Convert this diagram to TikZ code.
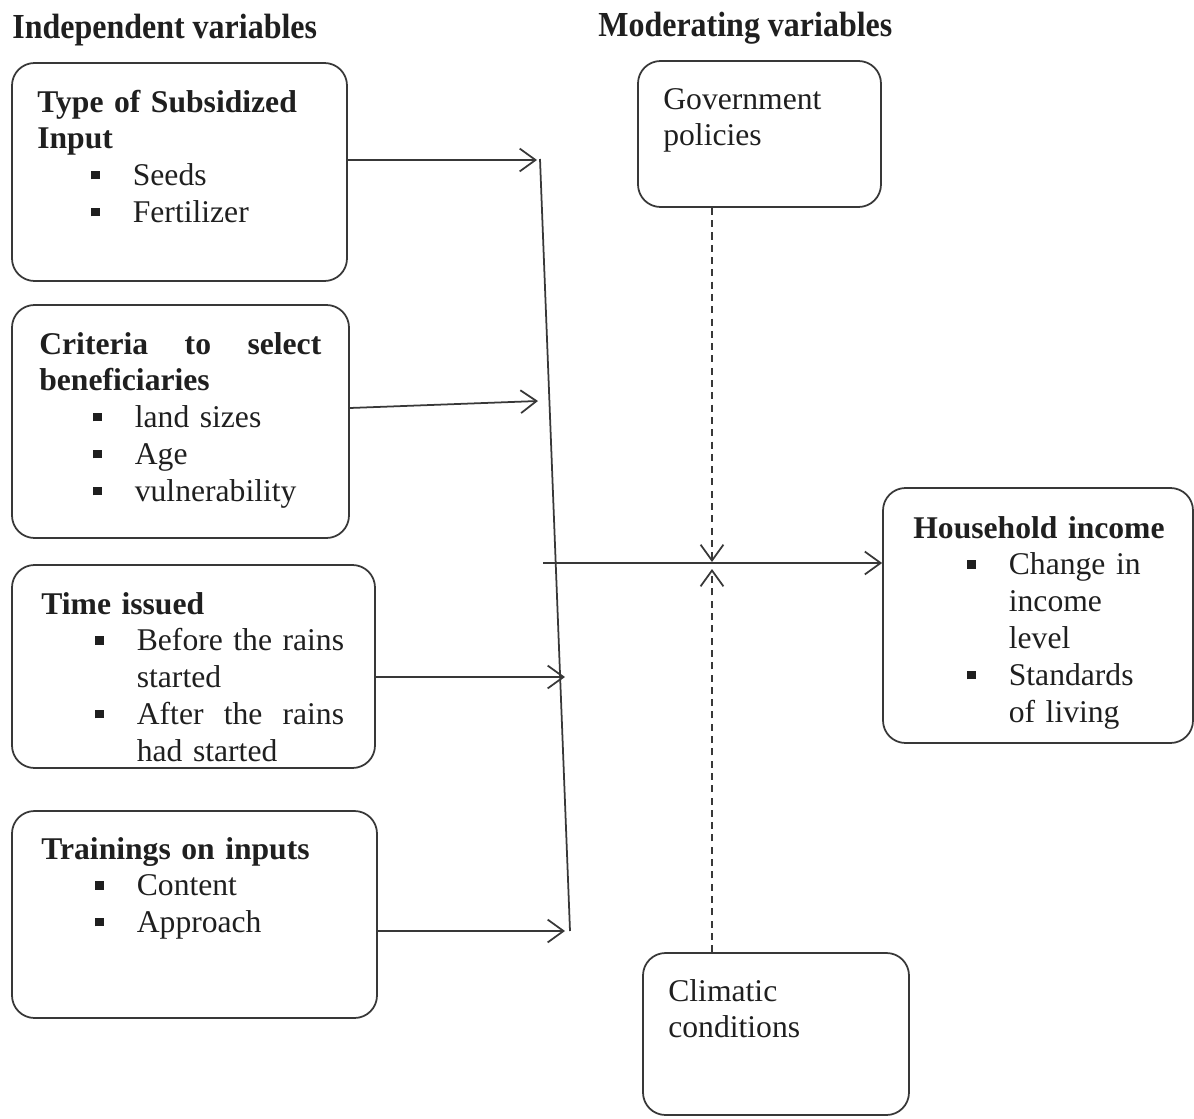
\documentclass[tikz,border=0pt]{standalone}
\usepackage{fontspec}
\setmainfont{Liberation Serif}
\usepackage{calc}
\usepackage{graphicx}
\usetikzlibrary{arrows.meta,fit,positioning}
\newcommand{\bodyfont}{\fontsize{18}{21}\selectfont}
\newcommand{\bsq}{\raisebox{0.2em}{\rule{0.27em}{0.27em}}}
\newcommand{\bitem}[1]{\hspace*{1.7em}\makebox[1.32em][l]{\bsq}#1}
\newcommand{\bcont}[1]{\hspace*{3.02em}#1}
\newcommand{\headtxt}[1]{\scalebox{0.91}[1]{\fontsize{20}{24}\selectfont\bfseries #1}}

\begin{document}
\begin{tikzpicture}[
    x=0.02cm, y=-0.02cm,
    frame/.style={draw=black!78, line width=1pt, rounded corners=0.45cm, inner sep=0pt},
    txt/.style={anchor=base west, inner sep=0pt, text width=7cm, align=left, font=\bodyfont, text=black!88},
    head/.style={anchor=base west, inner sep=0pt, text=black!88},
    arrow/.style={-{Straight Barb[length=9pt,width=13pt]}, draw=black!78, line width=1pt},
    soft/.style={arrow, dash pattern=on 4pt off 3pt}
]
    \useasboundingbox (0,0) rectangle (1194,1119);

    \node[head] (hind) at (12,38) {\headtxt{Independent variables}};
    \node[head] (hmod) at (598,36) {\headtxt{Moderating variables}};

    \node[frame, fit={(12,63) (347,281)}] (b1) {};
    \node[txt] (t1) at (37,112) {\textbf{Type of Subsidized}\\\textbf{Input}\\\bitem{Seeds}\\\bitem{Fertilizer}};

    \node[frame, fit={(12,305) (349,538)}] (b2) {};
    \node[txt] (t2) at (39,354) {\textbf{\makebox[5.64cm]{Criteria\hfill to\hfill select}}\\\textbf{beneficiaries}\\\bitem{land sizes}\\\bitem{Age}\\\bitem{vulnerability}};

    \node[frame, fit={(12,565) (375,768)}] (b3) {};
    \node[txt] (t3) at (41,614) {\textbf{Time issued}\\\bitem{Before the rains}\\\bcont{started}\\\bitem{\makebox[\widthof{Before the rains}]{After\hfill the\hfill rains}}\\\bcont{had started}};

    \node[frame, fit={(12,811) (377,1018)}] (b4) {};
    \node[txt] (t4) at (41,859) {\textbf{Trainings on inputs}\\\bitem{Content}\\\bitem{Approach}};

    \node[frame, fit={(638,61) (881,207)}] (gov) {};
    \node[txt] (tgov) at (663,109) {Government\\policies};

    \node[frame, fit={(643,953) (909,1115)}] (clim) {};
    \node[txt] (tclim) at (668,1001) {Climatic\\conditions};

    \node[frame, fit={(883,488) (1193,743)}] (hh) {};
    \node[txt] (thh) at (913,538) {\textbf{Household income}\\\bitem{Change in}\\\bcont{income}\\\bcont{level}\\\bitem{Standards}\\\bcont{of living}};

    \coordinate (top) at (540,159);
    \coordinate (bot) at (570,931);
    \coordinate (mid) at (543,563);
    \coordinate (jt) at (712,562);
    \coordinate (jb) at (712,569);
    \coordinate (a1) at (537,160);
    \coordinate (a2) at (538,401);
    \coordinate (a3) at (565,677);
    \coordinate (a4) at (565,931);

    \draw[arrow] (b1.east |- a1) -- (a1);
    \draw[arrow] (b2.east |- 0,408) -- (a2);
    \draw[arrow] (b3.east |- a3) -- (a3);
    \draw[arrow] (b4.east |- a4) -- (a4);
    \draw[draw=black!78, line width=1pt] (top) -- (bot);
    \draw[arrow] (mid) -- (hh.west |- mid);
    \draw[soft] (gov.south -| jt) -- (jt);
    \draw[soft] (clim.north -| jb) -- (jb);
\end{tikzpicture}
\end{document}
